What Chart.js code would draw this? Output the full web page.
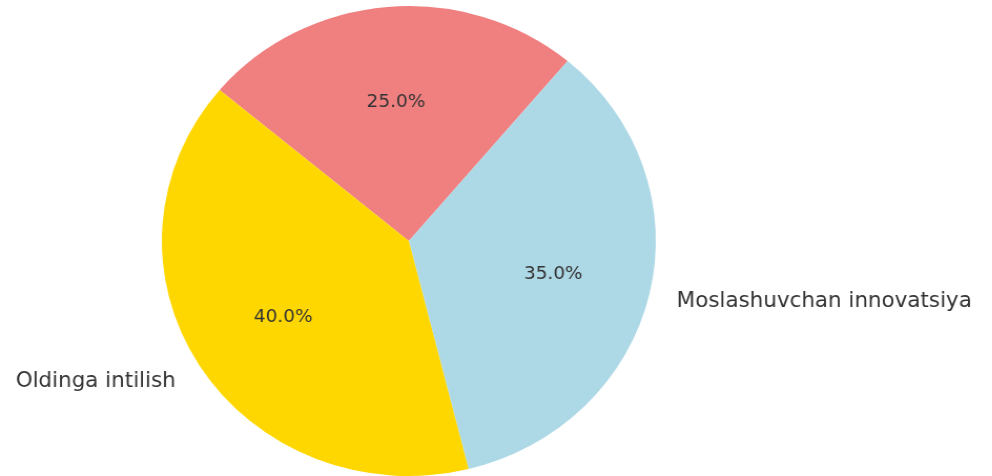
<!DOCTYPE html>
<html>
<head>
<meta charset="utf-8">
<script src="https://cdn.jsdelivr.net/npm/chart.js@4"></script>
<style>
  html, body { margin: 0; padding: 0; background: #fff; overflow: hidden; }
  #wrap {
    position: absolute; left: 0; top: 0;
    width: 944px; height: 476px;
    transform: scaleX(1.051); transform-origin: 0 0;
  }
</style>
</head>
<body>
<div id="wrap"><canvas id="grafico"></canvas></div>
<script>
// dati (ordine di matplotlib, antiorario da 140°)
const categorie = ["Oldinga intilish", "Moslashuvchan innovatsiya", "Barqaror rivojlanish"];
const valori = [40, 35, 25];
const colori = ["#FFD700", "#ADD8E6", "#F08080"];

// Chart.js gira in senso orario: inverto l'ordine
const etichette = categorie.slice().reverse();
const dati = valori.slice().reverse();
const sfondi = colori.slice().reverse();

const etichettePlugin = {
  id: "etichette",
  afterDatasetsDraw(chart) {
    const ctx = chart.ctx;
    const meta = chart.getDatasetMeta(0);
    const tot = dati.reduce((a, b) => a + b, 0);
    ctx.save();
    ctx.fillStyle = "#333333";
    ctx.textBaseline = "middle";
    meta.data.forEach((arc, i) => {
      const p = arc.getProps(["x", "y", "startAngle", "endAngle", "outerRadius"], true);
      const mid = (p.startAngle + p.endAngle) / 2;
      const c = Math.cos(mid), s = Math.sin(mid);

      // percentuale dentro
      ctx.font = "17.6px 'DejaVu Sans'";
      ctx.textAlign = "center";
      const perc = (dati[i] / tot * 100).toFixed(1) + "%";
      ctx.fillText(perc, p.x + c * p.outerRadius * 0.6, p.y + s * p.outerRadius * 0.6 + 1.5);

      // nome fuori
      ctx.font = "20.4px 'DejaVu Sans'";
      ctx.textAlign = c >= 0 ? "left" : "right";
      ctx.fillText(etichette[i], p.x + c * p.outerRadius * 1.113, p.y + s * p.outerRadius * 1.113 + 2);
    });
    ctx.restore();
  }
};

new Chart(document.getElementById("grafico"), {
  type: "pie",
  data: {
    labels: etichette,
    datasets: [{
      data: dati,
      backgroundColor: sfondi,
      borderWidth: 0
    }]
  },
  options: {
    responsive: true,
    maintainAspectRatio: false,
    animation: false,
    rotation: -50,
    layout: { padding: { left: 0, right: 166, top: 6, bottom: 0 } },
    plugins: {
      legend: { display: false },
      tooltip: { enabled: false }
    }
  },
  plugins: [etichettePlugin]
});
</script>
</body>
</html>
